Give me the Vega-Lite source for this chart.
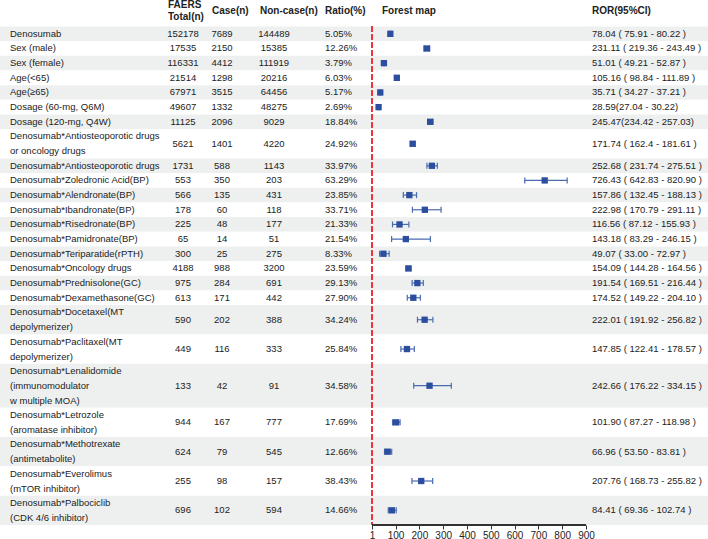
{
  "$schema": "https://vega.github.io/schema/vega-lite/v6.json",
  "width": 708,
  "height": 525,
  "autosize": "none",
  "padding": {"left": 0, "top": 0, "right": 0, "bottom": 14},
  "background": "white",
  "config": {
    "view": {"stroke": null},
    "font": "Liberation Sans",
    "text": {"font": "Liberation Sans", "fontSize": 9.5, "color": "#222222", "baseline": "middle"}
  },
  "data": {
    "values": [
      {"label": ["Denosumab"], "total": 152178, "cases": 7689, "noncases": 144489, "ratio": "5.05%", "ror": 78.04, "lo": 75.91, "hi": 80.22, "ci": "78.04 ( 75.91 - 80.22 )"},
      {"label": ["Sex (male)"], "total": 17535, "cases": 2150, "noncases": 15385, "ratio": "12.26%", "ror": 231.11, "lo": 219.36, "hi": 243.49, "ci": "231.11 ( 219.36 - 243.49 )"},
      {"label": ["Sex (female)"], "total": 116331, "cases": 4412, "noncases": 111919, "ratio": "3.79%", "ror": 51.01, "lo": 49.21, "hi": 52.87, "ci": "51.01 ( 49.21 - 52.87 )"},
      {"label": ["Age(<65)"], "total": 21514, "cases": 1298, "noncases": 20216, "ratio": "6.03%", "ror": 105.16, "lo": 98.84, "hi": 111.89, "ci": "105.16 ( 98.84 - 111.89 )"},
      {"label": ["Age(≥65)"], "total": 67971, "cases": 3515, "noncases": 64456, "ratio": "5.17%", "ror": 35.71, "lo": 34.27, "hi": 37.21, "ci": "35.71 ( 34.27 - 37.21 )"},
      {"label": ["Dosage (60-mg, Q6M)"], "total": 49607, "cases": 1332, "noncases": 48275, "ratio": "2.69%", "ror": 28.59, "lo": 27.04, "hi": 30.22, "ci": "28.59(27.04 - 30.22)"},
      {"label": ["Dosage (120-mg, Q4W)"], "total": 11125, "cases": 2096, "noncases": 9029, "ratio": "18.84%", "ror": 245.47, "lo": 234.42, "hi": 257.03, "ci": "245.47(234.42 - 257.03)"},
      {"label": ["Denosumab*Antiosteoporotic drugs", "or oncology drugs"], "total": 5621, "cases": 1401, "noncases": 4220, "ratio": "24.92%", "ror": 171.74, "lo": 162.4, "hi": 181.61, "ci": "171.74 ( 162.4 - 181.61 )"},
      {"label": ["Denosumab*Antiosteoporotic drugs"], "total": 1731, "cases": 588, "noncases": 1143, "ratio": "33.97%", "ror": 252.68, "lo": 231.74, "hi": 275.51, "ci": "252.68 ( 231.74 - 275.51 )"},
      {"label": ["Denosumab*Zoledronic Acid(BP)"], "total": 553, "cases": 350, "noncases": 203, "ratio": "63.29%", "ror": 726.43, "lo": 642.83, "hi": 820.90, "ci": "726.43 ( 642.83 - 820.90 )"},
      {"label": ["Denosumab*Alendronate(BP)"], "total": 566, "cases": 135, "noncases": 431, "ratio": "23.85%", "ror": 157.86, "lo": 132.45, "hi": 188.13, "ci": "157.86 ( 132.45 - 188.13 )"},
      {"label": ["Denosumab*Ibandronate(BP)"], "total": 178, "cases": 60, "noncases": 118, "ratio": "33.71%", "ror": 222.98, "lo": 170.79, "hi": 291.11, "ci": "222.98 ( 170.79 - 291.11 )"},
      {"label": ["Denosumab*Risedronate(BP)"], "total": 225, "cases": 48, "noncases": 177, "ratio": "21.33%", "ror": 116.56, "lo": 87.12, "hi": 155.93, "ci": "116.56 ( 87.12 - 155.93 )"},
      {"label": ["Denosumab*Pamidronate(BP)"], "total": 65, "cases": 14, "noncases": 51, "ratio": "21.54%", "ror": 143.18, "lo": 83.29, "hi": 246.15, "ci": "143.18 ( 83.29 - 246.15 )"},
      {"label": ["Denosumab*Teriparatide(rPTH)"], "total": 300, "cases": 25, "noncases": 275, "ratio": "8.33%", "ror": 49.07, "lo": 33.00, "hi": 72.97, "ci": "49.07 ( 33.00 - 72.97 )"},
      {"label": ["Denosumab*Oncology drugs"], "total": 4188, "cases": 988, "noncases": 3200, "ratio": "23.59%", "ror": 154.09, "lo": 144.28, "hi": 164.56, "ci": "154.09 ( 144.28 - 164.56 )"},
      {"label": ["Denosumab*Prednisolone(GC)"], "total": 975, "cases": 284, "noncases": 691, "ratio": "29.13%", "ror": 191.54, "lo": 169.51, "hi": 216.44, "ci": "191.54 ( 169.51 - 216.44 )"},
      {"label": ["Denosumab*Dexamethasone(GC)"], "total": 613, "cases": 171, "noncases": 442, "ratio": "27.90%", "ror": 174.52, "lo": 149.22, "hi": 204.10, "ci": "174.52 ( 149.22 - 204.10 )"},
      {"label": ["Denosumab*Docetaxel(MT", "depolymerizer)"], "total": 590, "cases": 202, "noncases": 388, "ratio": "34.24%", "ror": 222.01, "lo": 191.92, "hi": 256.82, "ci": "222.01 ( 191.92 - 256.82 )"},
      {"label": ["Denosumab*Paclitaxel(MT", "depolymerizer)"], "total": 449, "cases": 116, "noncases": 333, "ratio": "25.84%", "ror": 147.85, "lo": 122.41, "hi": 178.57, "ci": "147.85 ( 122.41 - 178.57 )"},
      {"label": ["Denosumab*Lenalidomide", "(immunomodulator", "w multiple MOA)"], "total": 133, "cases": 42, "noncases": 91, "ratio": "34.58%", "ror": 242.66, "lo": 176.22, "hi": 334.15, "ci": "242.66 ( 176.22 - 334.15 )"},
      {"label": ["Denosumab*Letrozole", "(aromatase inhibitor)"], "total": 944, "cases": 167, "noncases": 777, "ratio": "17.69%", "ror": 101.90, "lo": 87.27, "hi": 118.98, "ci": "101.90 ( 87.27 - 118.98 )"},
      {"label": ["Denosumab*Methotrexate", "(antimetabolite)"], "total": 624, "cases": 79, "noncases": 545, "ratio": "12.66%", "ror": 66.96, "lo": 53.50, "hi": 83.81, "ci": "66.96 ( 53.50 - 83.81 )"},
      {"label": ["Denosumab*Everolimus", "(mTOR inhibitor)"], "total": 255, "cases": 98, "noncases": 157, "ratio": "38.43%", "ror": 207.76, "lo": 168.73, "hi": 255.82, "ci": "207.76 ( 168.73 - 255.82 )"},
      {"label": ["Denosumab*Palbociclib", "(CDK 4/6 inhibitor)"], "total": 696, "cases": 102, "noncases": 594, "ratio": "14.66%", "ror": 84.41, "lo": 69.36, "hi": 102.74, "ci": "84.41 ( 69.36 - 102.74 )"}
    ]
  },
  "transform": [
    {"calculate": "length(datum.label)", "as": "lines"},
    {"window": [{"op": "sum", "field": "lines", "as": "rowEnd"}, {"op": "row_number", "as": "rn"}]},
    {"calculate": "datum.rowEnd - datum.lines", "as": "rowStart"},
    {"calculate": "datum.rowEnd - datum.lines / 2", "as": "rowMid"},
    {"calculate": "datum.rowMid - (datum.lines - 1) * 0.5115", "as": "labelY"}
  ],
  "layer": [
    {
      "mark": {"type": "rect"},
      "encoding": {
        "y": {"field": "rowStart", "type": "quantitative", "scale": {"domain": [-1.807, 34], "reverse": true, "nice": false, "zero": false}, "axis": null},
        "y2": {"field": "rowEnd"},
        "fill": {"condition": {"test": "datum.rn % 2 == 1", "value": "#eef0ef"}, "value": "#ffffff"}
      }
    },
    {
      "mark": {"type": "rule", "color": "#e8383d", "strokeWidth": 1.3, "strokeDash": [5, 3]},
      "encoding": {
        "x": {"datum": 1, "type": "quantitative", "scale": {"domain": [-1561.8, 1412.5], "nice": false, "zero": false}},
        "y": {"datum": 0, "type": "quantitative"},
        "y2": {"datum": 34}
      }
    },
    {
      "mark": {"type": "rule", "color": "#333333", "strokeWidth": 1},
      "encoding": {
        "x": {"datum": 1, "type": "quantitative"},
        "x2": {"datum": 900},
        "y": {"datum": 34, "type": "quantitative"}
      }
    },
    {
      "mark": {"type": "rule", "color": "#4a6bb0", "strokeWidth": 1.2},
      "encoding": {
        "x": {"field": "lo", "type": "quantitative"},
        "x2": {"field": "hi"},
        "y": {"field": "rowMid", "type": "quantitative"}
      }
    },
    {
      "mark": {"type": "tick", "orient": "vertical", "color": "#4a6bb0", "size": 6, "thickness": 1.2, "opacity": 1},
      "encoding": {
        "x": {"field": "lo", "type": "quantitative"},
        "y": {"field": "rowMid", "type": "quantitative"}
      }
    },
    {
      "mark": {"type": "tick", "orient": "vertical", "color": "#4a6bb0", "size": 6, "thickness": 1.2, "opacity": 1},
      "encoding": {
        "x": {"field": "hi", "type": "quantitative"},
        "y": {"field": "rowMid", "type": "quantitative"}
      }
    },
    {
      "mark": {"type": "point", "shape": "square", "filled": true, "size": 40, "color": "#2c4e9e", "opacity": 1},
      "encoding": {
        "x": {"field": "ror", "type": "quantitative", "axis": {"values": [1, 100, 200, 300, 400, 500, 600, 700, 800, 900], "domain": false, "grid": false, "title": null, "tickSize": 4, "tickColor": "#333333", "labelPadding": 1, "labelFontSize": 10, "labelColor": "#222222", "labelFont": "Liberation Sans"}},
        "y": {"field": "rowMid", "type": "quantitative"}
      }
    },
    {
      "mark": {"type": "text", "align": "left", "lineHeight": 15},
      "encoding": {"x": {"value": 10}, "y": {"field": "labelY", "type": "quantitative"}, "text": {"field": "label"}}
    },
    {
      "mark": {"type": "text", "align": "center"},
      "encoding": {"x": {"value": 183}, "y": {"field": "rowMid", "type": "quantitative"}, "text": {"field": "total", "type": "quantitative", "format": "d"}}
    },
    {
      "mark": {"type": "text", "align": "center"},
      "encoding": {"x": {"value": 222}, "y": {"field": "rowMid", "type": "quantitative"}, "text": {"field": "cases", "type": "quantitative", "format": "d"}}
    },
    {
      "mark": {"type": "text", "align": "center"},
      "encoding": {"x": {"value": 274}, "y": {"field": "rowMid", "type": "quantitative"}, "text": {"field": "noncases", "type": "quantitative", "format": "d"}}
    },
    {
      "mark": {"type": "text", "align": "left"},
      "encoding": {"x": {"value": 325}, "y": {"field": "rowMid", "type": "quantitative"}, "text": {"field": "ratio"}}
    },
    {
      "mark": {"type": "text", "align": "left"},
      "encoding": {"x": {"value": 592}, "y": {"field": "rowMid", "type": "quantitative"}, "text": {"field": "ci"}}
    },
    {
      "data": {"values": [{"h": ["FAERS", "Total(n)"]}]},
      "mark": {"type": "text", "align": "left", "fontWeight": "bold", "fontSize": 10, "lineHeight": 12},
      "encoding": {"x": {"value": 168}, "y": {"datum": -1.47, "type": "quantitative"}, "text": {"field": "h"}}
    },
    {
      "data": {"values": [{"h": "Case(n)"}]},
      "mark": {"type": "text", "align": "left", "fontWeight": "bold", "fontSize": 10},
      "encoding": {"x": {"value": 212}, "y": {"datum": -1.023, "type": "quantitative"}, "text": {"field": "h"}}
    },
    {
      "data": {"values": [{"h": "Non-case(n)"}]},
      "mark": {"type": "text", "align": "left", "fontWeight": "bold", "fontSize": 10},
      "encoding": {"x": {"value": 260}, "y": {"datum": -1.023, "type": "quantitative"}, "text": {"field": "h"}}
    },
    {
      "data": {"values": [{"h": "Ratio(%)"}]},
      "mark": {"type": "text", "align": "left", "fontWeight": "bold", "fontSize": 10},
      "encoding": {"x": {"value": 325}, "y": {"datum": -1.023, "type": "quantitative"}, "text": {"field": "h"}}
    },
    {
      "data": {"values": [{"h": "Forest map"}]},
      "mark": {"type": "text", "align": "left", "fontWeight": "bold", "fontSize": 10},
      "encoding": {"x": {"value": 382}, "y": {"datum": -1.023, "type": "quantitative"}, "text": {"field": "h"}}
    },
    {
      "data": {"values": [{"h": "ROR(95%CI)"}]},
      "mark": {"type": "text", "align": "left", "fontWeight": "bold", "fontSize": 10},
      "encoding": {"x": {"value": 592}, "y": {"datum": -1.023, "type": "quantitative"}, "text": {"field": "h"}}
    }
  ]
}
